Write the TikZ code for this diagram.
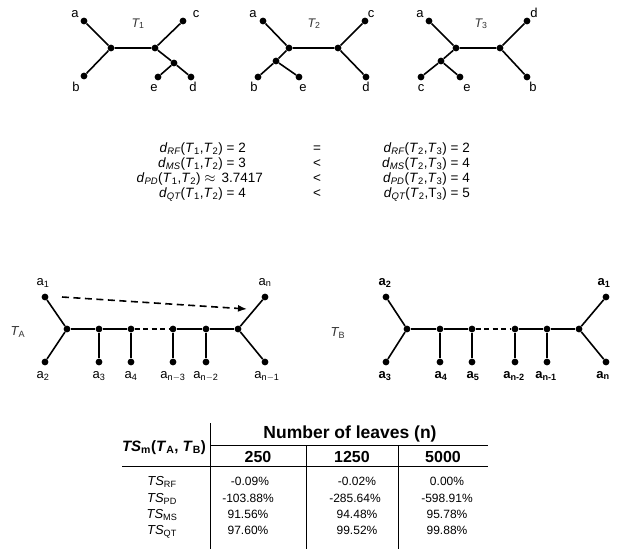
\documentclass[tikz,border=0pt]{standalone}
\usepackage{fontspec}
\setmainfont{Liberation Sans}
\usetikzlibrary{arrows.meta}
\begin{document}
\begin{tikzpicture}[x=1pt,y=-1pt,
  dot/.style={circle,fill=black,inner sep=0pt,minimum size=6.8pt},
  edge/.style={line width=1.6pt},
  dashededge/.style={line width=1.6pt,dash pattern=on 5pt off 3.5pt},
  lbl/.style={font=\fontsize{13}{15}\selectfont,inner sep=0pt,anchor=base},
  blbl/.style={font=\fontsize{13}{15}\selectfont\bfseries,inner sep=0pt,anchor=base},
  tlbl/.style={font=\fontsize{12.5}{14}\selectfont\itshape,inner sep=0pt,anchor=base,text=black!80},
  eqcol/.style={font=\fontsize{13.5}{15}\selectfont,inner sep=0pt},
  th/.style={font=\fontsize{16}{18}\selectfont\bfseries,inner sep=0pt,anchor=base},
  td/.style={font=\fontsize{12}{13}\selectfont,inner sep=0pt,anchor=base},
  rl/.style={font=\fontsize{13}{15}\selectfont,inner sep=0pt,anchor=base},
  tline/.style={line width=1pt}
]
\useasboundingbox (0,0) rectangle (621,549);

% ---------- T1 ----------
\node[dot] (t1a) at (84,21) {};
\node[dot] (t1b) at (84,76) {};
\node[dot] (t1L) at (111,48) {};
\node[dot] (t1R) at (155,48) {};
\node[dot] (t1c) at (183,21) {};
\node[dot] (t1s) at (174,63) {};
\node[dot] (t1e) at (158,77) {};
\node[dot] (t1d) at (191,77) {};
\draw[edge] (t1a) -- (t1L) -- (t1b);
\draw[edge] (t1L) -- (t1R) -- (t1c);
\draw[edge] (t1R) -- (t1s) -- (t1e);
\draw[edge] (t1s) -- (t1d);
\node[lbl] (t1la) at (75,17) {a};
\node[lbl] (t1lc) at (196,17) {c};
\node[lbl] (t1lb) at (76,91) {b};
\node[lbl] (t1le) at (154,91) {e};
\node[lbl] (t1ld) at (193,91) {d};
\node[tlbl] (t1name) at (138,27) {T\textsubscript{\upshape 1}};

% ---------- T2 ----------
\node[dot] (t2a) at (263,21) {};
\node[dot] (t2L) at (289,48) {};
\node[dot] (t2s) at (276,61) {};
\node[dot] (t2b) at (258,77) {};
\node[dot] (t2e) at (299,77) {};
\node[dot] (t2R) at (338,48) {};
\node[dot] (t2c) at (365,21) {};
\node[dot] (t2d) at (366,77) {};
\draw[edge] (t2a) -- (t2L) -- (t2s) -- (t2b);
\draw[edge] (t2s) -- (t2e);
\draw[edge] (t2L) -- (t2R) -- (t2c);
\draw[edge] (t2R) -- (t2d);
\node[lbl] (t2la) at (253,17) {a};
\node[lbl] (t2lc) at (371,17) {c};
\node[lbl] (t2lb) at (254,91) {b};
\node[lbl] (t2le) at (303,91) {e};
\node[lbl] (t2ld) at (366,91) {d};
\node[tlbl] (t2name) at (314,27) {T\textsubscript{\upshape 2}};

% ---------- T3 ----------
\node[dot] (t3a) at (429,21) {};
\node[dot] (t3L) at (456,48) {};
\node[dot] (t3s) at (441,61) {};
\node[dot] (t3c) at (421,77) {};
\node[dot] (t3e) at (460,77) {};
\node[dot] (t3R) at (500,48) {};
\node[dot] (t3d) at (527,21) {};
\node[dot] (t3b) at (527,77) {};
\draw[edge] (t3a) -- (t3L) -- (t3s) -- (t3c);
\draw[edge] (t3s) -- (t3e);
\draw[edge] (t3L) -- (t3R) -- (t3d);
\draw[edge] (t3R) -- (t3b);
\node[lbl] (t3la) at (420,17) {a};
\node[lbl] (t3ld) at (534,17) {d};
\node[lbl] (t3lc) at (421,91) {c};
\node[lbl] (t3le) at (467,91) {e};
\node[lbl] (t3lb) at (533,91) {b};
\node[tlbl] (t3name) at (481,27) {T\textsubscript{\upshape 3}};

% ---------- equations (one text block per column) ----------
\node[eqcol,anchor=base east] (eqL) at (246,197) {\begin{tabular}[b]{@{}r@{}}
\textit{d}\textsubscript{\itshape RF}(\textit{T}\textsubscript{1},\textit{T}\textsubscript{2}) = 2\\
\textit{d}\textsubscript{\itshape MS}(\textit{T}\textsubscript{1},\textit{T}\textsubscript{2}) = 3\\
\textit{d}\textsubscript{\itshape PD}(\textit{T}\textsubscript{1},\textit{T}\textsubscript{2}) $\approx$\, 3.7417\kern-17pt\\
\textit{d}\textsubscript{\itshape QT}(\textit{T}\textsubscript{1},\textit{T}\textsubscript{2}) = 4
\end{tabular}};
\node[eqcol,anchor=base] (eqM) at (317,197) {\begin{tabular}[b]{@{}c@{}}=\\<\\<\\<\end{tabular}};
\node[eqcol,anchor=base east] (eqR) at (470,197) {\begin{tabular}[b]{@{}r@{}}
\textit{d}\textsubscript{\itshape RF}(\textit{T}\textsubscript{2},\textit{T}\textsubscript{3}) = 2\\
\textit{d}\textsubscript{\itshape MS}(\textit{T}\textsubscript{2},\textit{T}\textsubscript{3}) = 4\\
\textit{d}\textsubscript{\itshape PD}(\textit{T}\textsubscript{2},\textit{T}\textsubscript{3}) = 4\\
\textit{d}\textsubscript{\itshape QT}(\textit{T}\textsubscript{2},T\textsubscript{3}) = 5
\end{tabular}};

% ---------- T_A ----------
\node[dot] (A1) at (45,297) {};
\node[dot] (A2) at (45,362) {};
\node[dot] (AL) at (67,329) {};
\node[dot] (As3) at (99,329) {};
\node[dot] (As4) at (131,329) {};
\node[dot] (Asn3) at (173,329) {};
\node[dot] (Asn2) at (206,329) {};
\node[dot] (AR) at (238,329) {};
\node[dot] (A3) at (99,362) {};
\node[dot] (A4) at (131,362) {};
\node[dot] (An3) at (173,362) {};
\node[dot] (An2) at (206,362) {};
\node[dot] (An) at (265,297) {};
\node[dot] (An1) at (265,362) {};
\draw[edge] (A1) -- (AL) -- (A2);
\draw[edge] (AL) -- (As3) -- (As4);
\draw[dashededge] (As4) -- (Asn3);
\draw[edge] (Asn3) -- (Asn2) -- (AR);
\draw[edge] (As3) -- (A3);
\draw[edge] (As4) -- (A4);
\draw[edge] (Asn3) -- (An3);
\draw[edge] (Asn2) -- (An2);
\draw[edge] (An) -- (AR) -- (An1);
\coordinate (arrS) at (62,297);
\coordinate (arrE) at (247,309);
\draw[line width=1.6pt,dash pattern=on 7pt off 4.5pt,-{Latex[length=9pt,width=7pt]}] (arrS) -- (arrE);
\node[lbl] (lA1) at (43,285) {a\textsubscript{1}};
\node[lbl] (lAn) at (265,285) {a\textsubscript{n}};
\node[lbl] (lA2) at (43,378) {a\textsubscript{2}};
\node[lbl] (lA3) at (99,378) {a\textsubscript{3}};
\node[lbl] (lA4) at (131,378) {a\textsubscript{4}};
\node[lbl] (lAn3) at (173,378) {a\textsubscript{n$-$3}};
\node[lbl] (lAn2) at (206,378) {a\textsubscript{n$-$2}};
\node[lbl] (lAn1) at (267,378) {a\textsubscript{n$-$1}};
\node[tlbl,font=\fontsize{13}{15}\selectfont\itshape] (TA) at (18,335) {T\textsubscript{\upshape A}};

% ---------- T_B ----------
\node[dot] (B2) at (386,297) {};
\node[dot] (B3) at (386,362) {};
\node[dot] (BL) at (407,329) {};
\node[dot] (Bs4) at (440,329) {};
\node[dot] (Bs5) at (472,329) {};
\node[dot] (Bsn2) at (515,329) {};
\node[dot] (Bsn1) at (547,329) {};
\node[dot] (BR) at (579,329) {};
\node[dot] (B4) at (440,362) {};
\node[dot] (B5) at (472,362) {};
\node[dot] (Bn2) at (515,362) {};
\node[dot] (Bn1) at (547,362) {};
\node[dot] (B1) at (606,297) {};
\node[dot] (Bn) at (606,362) {};
\draw[edge] (B2) -- (BL) -- (B3);
\draw[edge] (BL) -- (Bs4) -- (Bs5);
\draw[dashededge] (Bs5) -- (Bsn2);
\draw[edge] (Bsn2) -- (Bsn1) -- (BR);
\draw[edge] (Bs4) -- (B4);
\draw[edge] (Bs5) -- (B5);
\draw[edge] (Bsn2) -- (Bn2);
\draw[edge] (Bsn1) -- (Bn1);
\draw[edge] (B1) -- (BR) -- (Bn);
\node[blbl] (lB2) at (385,285) {a\textsubscript{2}};
\node[blbl] (lB1) at (604,285) {a\textsubscript{1}};
\node[blbl] (lB3) at (385,378) {a\textsubscript{3}};
\node[blbl] (lB4) at (441,378) {a\textsubscript{4}};
\node[blbl] (lB5) at (473,378) {a\textsubscript{5}};
\node[blbl] (lBn2) at (514,378) {a\textsubscript{n-2}};
\node[blbl] (lBn1) at (546,378) {a\textsubscript{n-1}};
\node[blbl] (lBn) at (603,378) {a\textsubscript{n}};
\node[tlbl,font=\fontsize{13}{15}\selectfont\itshape] (TB) at (338,336) {T\textsubscript{\upshape B}};

% ---------- table ----------
\coordinate (vTop) at (210,423);
\coordinate (vBot) at (210,549);
\coordinate (hHL) at (210,445);
\coordinate (hHR) at (488,445);
\coordinate (hRL) at (122,466);
\coordinate (hRR) at (488,466);
\coordinate (v2T) at (306,445);
\coordinate (v2B) at (306,549);
\coordinate (v3T) at (398,445);
\coordinate (v3B) at (398,549);
\draw[tline] (vTop) -- (vBot);
\draw[tline] (hHL) -- (hHR);
\draw[tline] (hRL) -- (hRR);
\draw[tline] (v2T) -- (v2B);
\draw[tline] (v3T) -- (v3B);
\node[th,font=\fontsize{17.5}{20}\selectfont\bfseries] (hN) at (350,438) {Number of leaves (n)};
\node[th] (h250) at (258,462) {250};
\node[th] (h1250) at (352,462) {1250};
\node[th] (h5000) at (443,462) {5000};
\node[th,font=\fontsize{15}{17}\selectfont\bfseries] (hTS) at (164,451) {\textit{TS}\textsubscript{m}(\textit{T}\textsubscript{A}, \textit{T}\textsubscript{B})};
\node[rl] (rRF) at (162,485) {\textit{TS}\textsubscript{RF}};
\node[rl] (rPD) at (162,502) {\textit{TS}\textsubscript{PD}};
\node[rl] (rMS) at (162,518) {\textit{TS}\textsubscript{MS}};
\node[rl] (rQT) at (162,534) {\textit{TS}\textsubscript{QT}};
\node[td] (d11) at (250,485) {-0.09\%};
\node[td] (d12) at (357,485) {-0.02\%};
\node[td] (d13) at (447,485) {0.00\%};
\node[td] (d21) at (248,502) {-103.88\%};
\node[td] (d22) at (355,502) {-285.64\%};
\node[td] (d23) at (447,502) {-598.91\%};
\node[td] (d31) at (248,518) {91.56\%};
\node[td] (d32) at (357,518) {94.48\%};
\node[td] (d33) at (447,518) {95.78\%};
\node[td] (d41) at (248,534) {97.60\%};
\node[td] (d42) at (357,534) {99.52\%};
\node[td] (d43) at (447,534) {99.88\%};
\end{tikzpicture}
\end{document}
